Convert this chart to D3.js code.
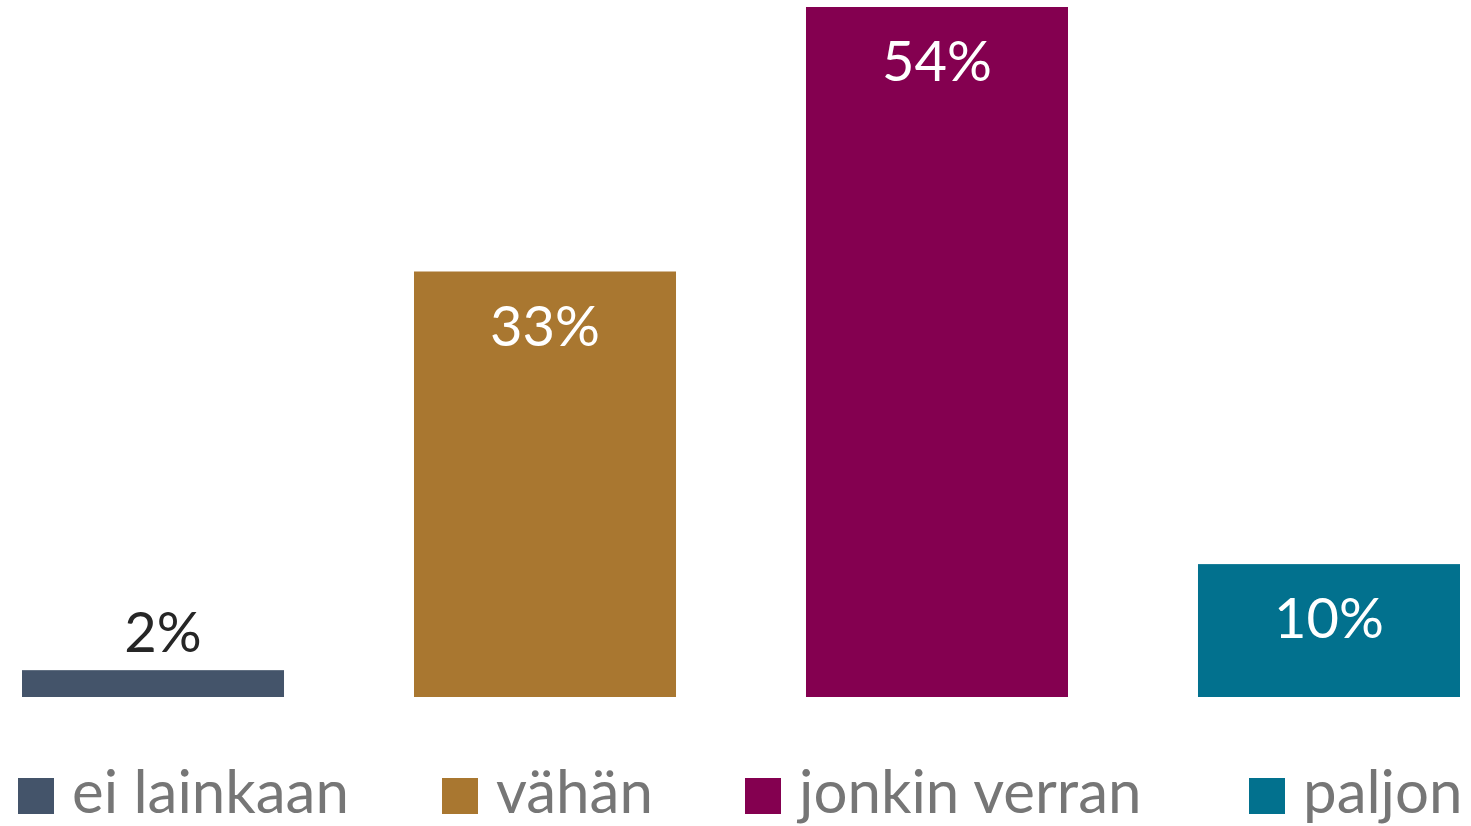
<!DOCTYPE html>
<html><head><meta charset="utf-8">
<script src="https://cdn.jsdelivr.net/npm/d3@7"></script>
<style>html,body{margin:0;padding:0;background:#fff;}svg{display:block;}</style>
</head><body>
<svg id="chart" width="1471" height="826"></svg>
<script>
const categories = ["ei lainkaan", "vähän", "jonkin verran", "paljon"];
const values = [2.1, 33.3, 54.0, 10.4];
const labels = ["2%", "33%", "54%", "10%"];
const colors = ["#44546A", "#A97730", "#840050", "#02718E"];
const legendX = [18, 442, 745, 1249];

const svg = d3.select("#chart");
const font = "Lato, 'Open Sans', sans-serif";

const x = d3.scaleBand().domain(categories).range([22, 1460]).paddingInner(0.3316).paddingOuter(0);
const y = d3.scaleLinear().domain([0, 54]).range([697, 7]);

svg.selectAll("rect.bar").data(categories).join("rect")
  .attr("class", "bar")
  .attr("x", d => x(d))
  .attr("width", x.bandwidth())
  .attr("y", (d, i) => y(values[i]))
  .attr("height", (d, i) => y(0) - y(values[i]))
  .attr("fill", (d, i) => colors[i]);

svg.selectAll("text.lbl").data(categories).join("text")
  .attr("class", "lbl")
  .attr("x", (d, i) => x(d) + x.bandwidth() / 2 + (values[i] < 5 ? 10 : 0))
  .attr("y", (d, i) => values[i] < 5 ? y(values[i]) - 18 : y(values[i]) + 74)
  .attr("text-anchor", "middle")
  .attr("font-family", font)
  .attr("font-size", 56)
  .attr("fill", (d, i) => values[i] < 5 ? "#262626" : "#ffffff")
  .text((d, i) => labels[i]);

const lg = svg.selectAll("g.leg").data(categories).join("g")
  .attr("class", "leg")
  .attr("transform", (d, i) => `translate(${legendX[i]},778)`);
lg.append("rect").attr("width", 36).attr("height", 36).attr("fill", (d, i) => colors[i]);
lg.append("text").attr("x", 54).attr("y", 35)
  .attr("font-family", font).attr("font-size", 60).attr("fill", "#767676")
  .text(d => d);
</script>
</body></html>
